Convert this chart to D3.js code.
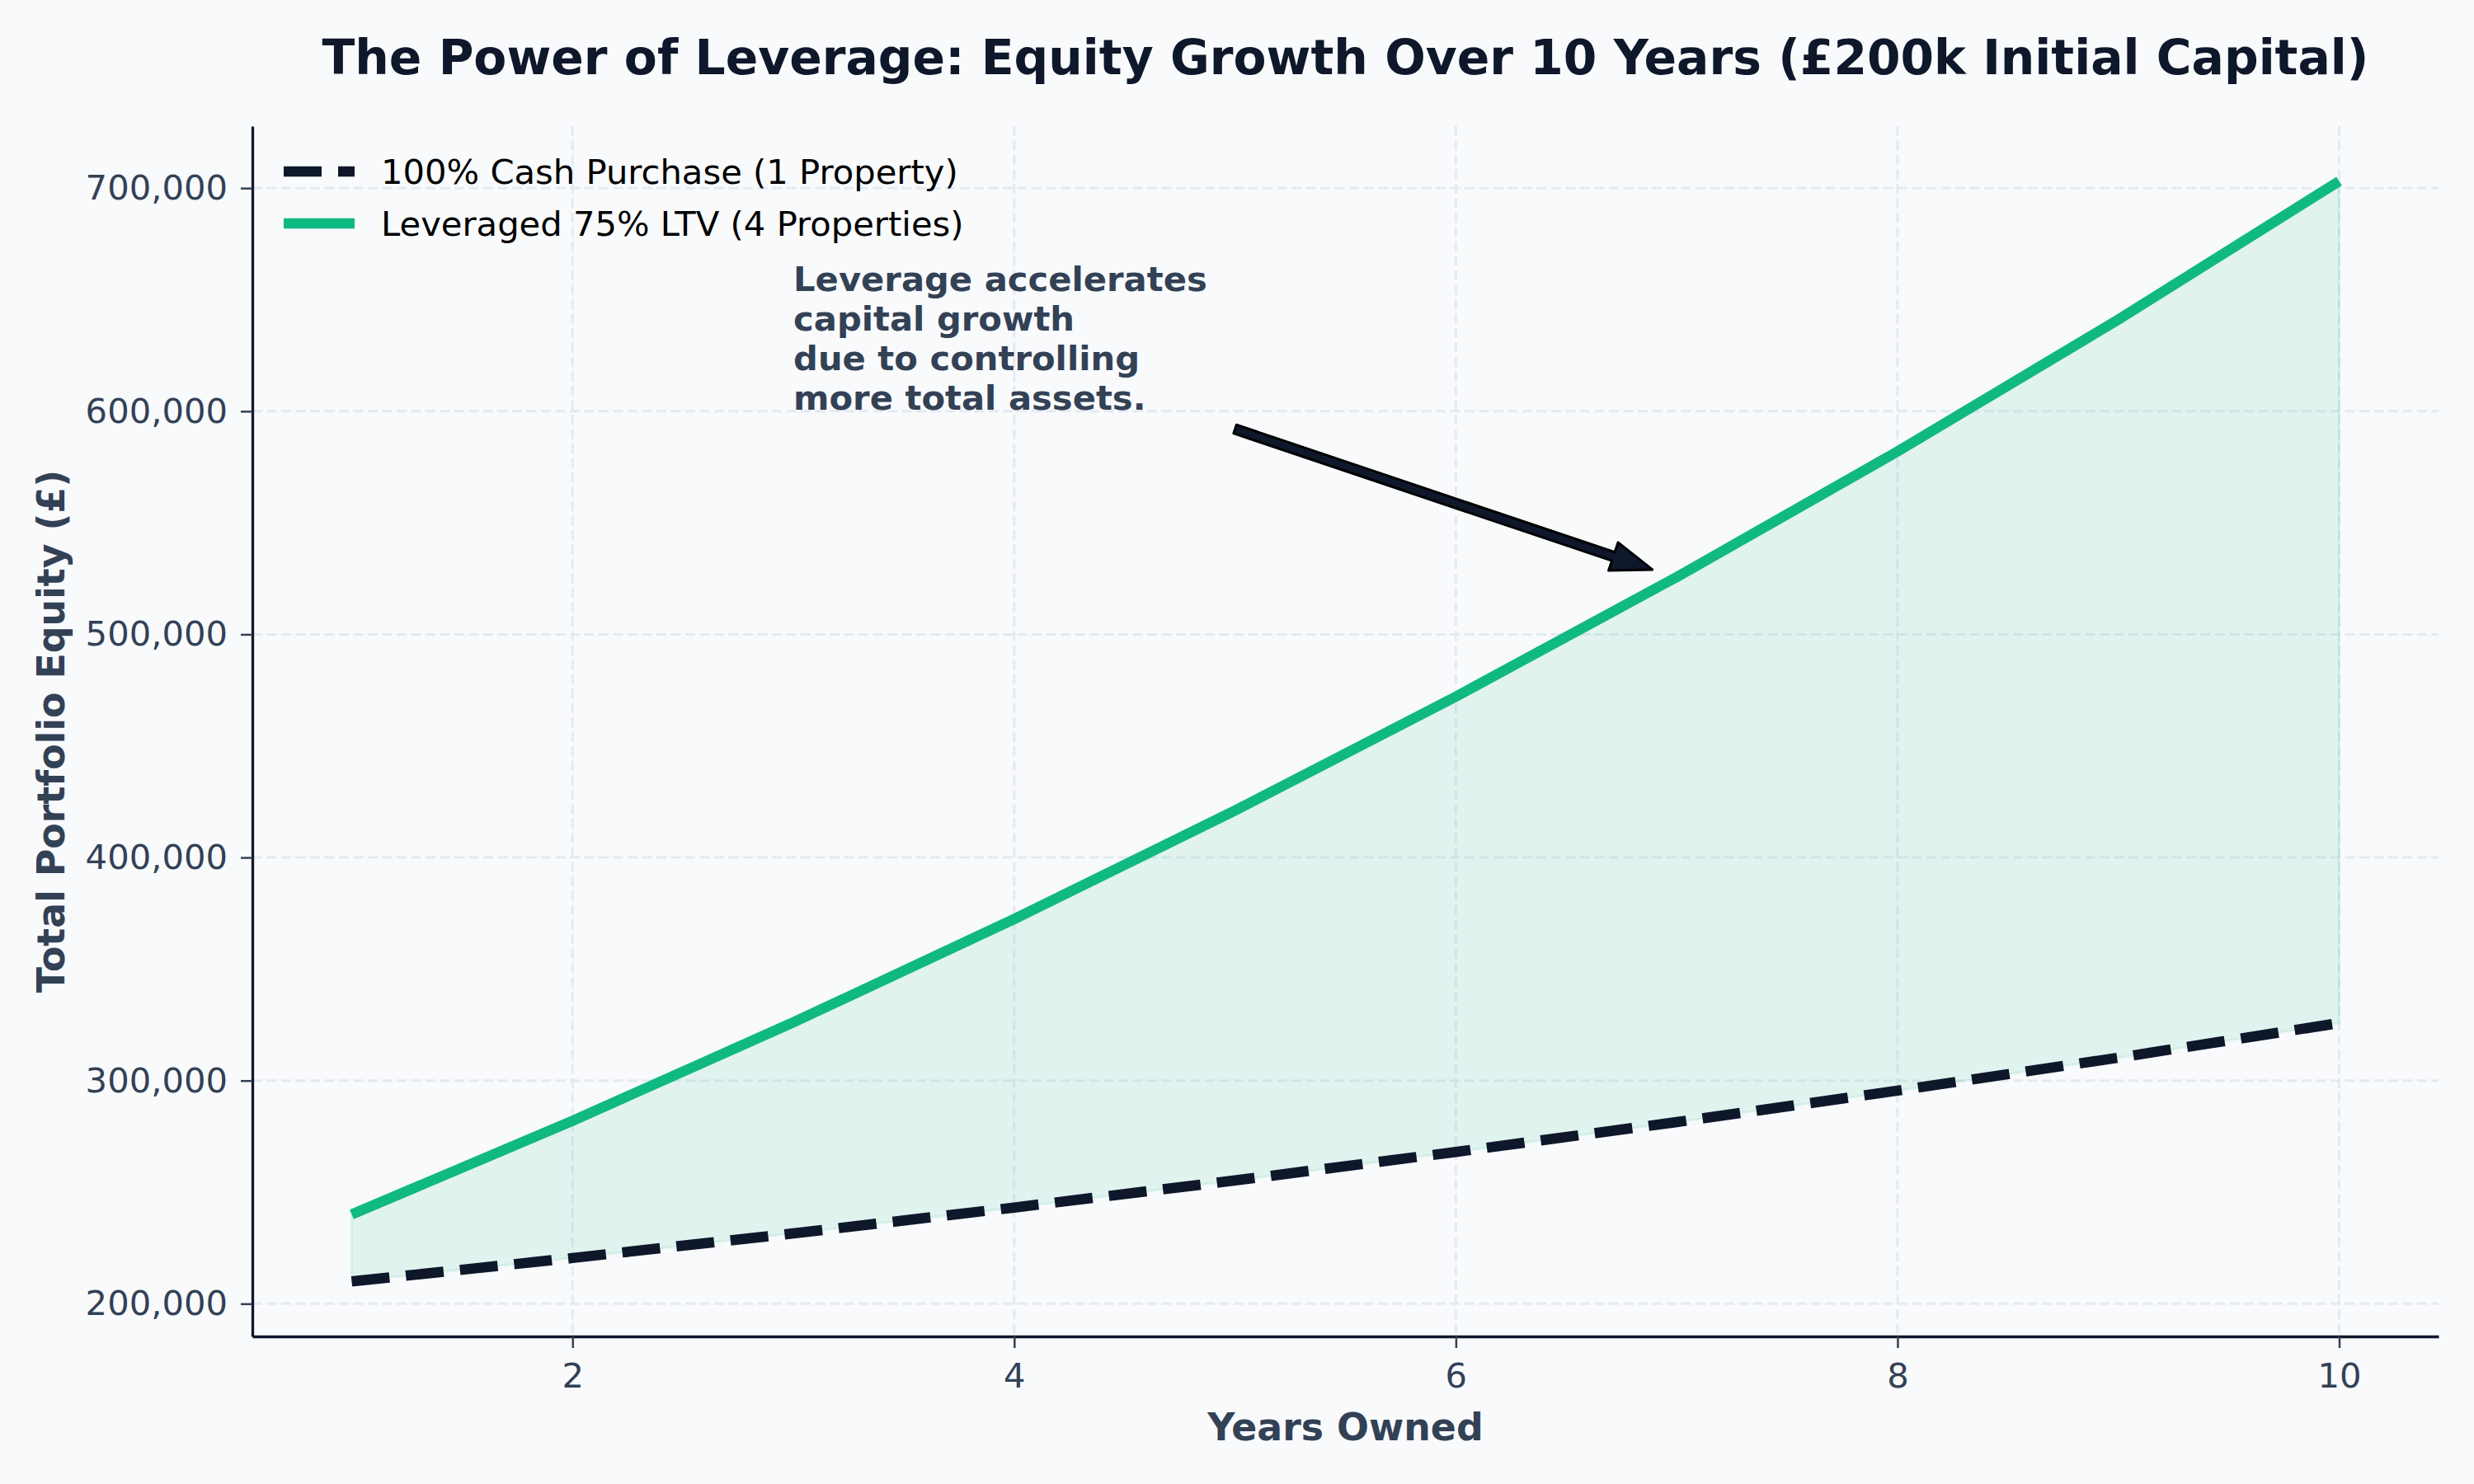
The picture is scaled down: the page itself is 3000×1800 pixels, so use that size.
<!DOCTYPE html>
<html>
<head>
<meta charset="utf-8">
<script src="https://cdn.jsdelivr.net/npm/d3@7"></script>
<style>
  html, body { margin: 0; padding: 0; background: #f8fafc; }
  svg { display: block; }
  text { font-family: "DejaVu Sans", sans-serif; }
</style>
</head>
<body>
<script>
// ---- Data ----
const years = [1, 2, 3, 4, 5, 6, 7, 8, 9, 10];
const cashEquity = [210000, 220500, 231525, 243101, 255256, 268019, 281420, 295491, 310266, 325779];
const leveragedEquity = [240000, 282000, 326100, 372405, 421025, 472076, 525680, 581964, 641062, 703115];
const seriesNames = ["100% Cash Purchase (1 Property)", "Leveraged 75% LTV (4 Properties)"];
const xTicks = [2, 4, 6, 8, 10];
const yTicks = [200000, 300000, 400000, 500000, 600000, 700000];
const titleText = "The Power of Leverage: Equity Growth Over 10 Years (£200k Initial Capital)";
const xLabel = "Years Owned";
const yLabel = "Total Portfolio Equity (£)";
const noteLines = ["Leverage accelerates", "capital growth", "due to controlling", "more total assets."];
const notePos = [3, 600000];
const arrowFrom = [5, 592000];
const arrowTo = [6.89, 529000];

(function () {
// ---- Layout ----
const W = 3000, H = 1800;
const pL = 306, pR = 2957, pT = 153, pB = 1621;
const C = { bg: "#f8fafc", dark: "#0f172a", slate: "#334155", green: "#10b981", grid: "#e2e8f0" };

const svg = d3.select("body").append("svg").attr("width", W).attr("height", H)
  .style("background", C.bg);

// domains with 5% margin (like matplotlib autoscale)
const xMin = d3.min(years), xMax = d3.max(years);
const xPad = (xMax - xMin) * 0.05;
const allY = cashEquity.concat(leveragedEquity);
const yMin = d3.min(allY), yMax = d3.max(allY);
const yPad = (yMax - yMin) * 0.05;

const x = d3.scaleLinear().domain([xMin - xPad, xMax + xPad]).range([pL, pR]);
const y = d3.scaleLinear().domain([yMin - yPad, yMax + yPad]).range([pB, pT]);

// ---- Grid ----
const grid = svg.append("g");
grid.selectAll("line.gx").data(xTicks).join("line")
  .attr("x1", d => x(d)).attr("x2", d => x(d)).attr("y1", pT).attr("y2", pB)
  .attr("stroke", C.grid).attr("stroke-width", 3).attr("stroke-dasharray", "12 5.5").attr("opacity", 0.85);
grid.selectAll("line.gy").data(yTicks).join("line")
  .attr("x1", pL).attr("x2", pR).attr("y1", d => y(d)).attr("y2", d => y(d))
  .attr("stroke", C.grid).attr("stroke-width", 3).attr("stroke-dasharray", "12 5.5").attr("opacity", 0.85);

// ---- Fill between ----
const pts = years.map((yr, i) => ({ yr, cash: cashEquity[i], lev: leveragedEquity[i] }));
svg.append("path").datum(pts)
  .attr("d", d3.area().x(d => x(d.yr)).y0(d => y(d.cash)).y1(d => y(d.lev)))
  .attr("fill", C.green).attr("fill-opacity", 0.1)
  .attr("stroke", C.green).attr("stroke-opacity", 0.1).attr("stroke-width", 3);

// ---- Lines ----
const line = d3.line().x(d => x(d[0])).y(d => y(d[1]));
svg.append("path").datum(years.map((yr, i) => [yr, cashEquity[i]]))
  .attr("d", line).attr("fill", "none").attr("stroke", C.dark)
  .attr("stroke-width", 12.5).attr("stroke-dasharray", "46 20");
svg.append("path").datum(years.map((yr, i) => [yr, leveragedEquity[i]]))
  .attr("d", line).attr("fill", "none").attr("stroke", C.green)
  .attr("stroke-width", 12.5).attr("stroke-linejoin", "round");

// ---- Axes ----
const xAxis = svg.append("g").attr("transform", `translate(0,${pB})`)
  .call(d3.axisBottom(x).tickValues(xTicks).tickFormat(d3.format("d")).tickSize(14).tickPadding(18).tickSizeOuter(0));
const yAxis = svg.append("g").attr("transform", `translate(${pL},0)`)
  .call(d3.axisLeft(y).tickValues(yTicks).tickFormat(d3.format(",")).tickSize(14).tickPadding(16).tickSizeOuter(0));
[xAxis, yAxis].forEach(g => {
  g.select(".domain").attr("stroke", C.dark).attr("stroke-width", 3.3);
  g.selectAll(".tick line").attr("stroke", C.slate).attr("stroke-width", 2.5);
  g.selectAll(".tick text").attr("fill", C.slate).style("font-size", "41.7px")
    .style("font-family", "'DejaVu Sans', sans-serif");
});

// ---- Labels ----
svg.append("text").attr("x", (pL + pR) / 2).attr("y", 90)
  .attr("text-anchor", "middle").attr("fill", C.dark)
  .style("font-size", "58.3px").style("font-weight", "bold").text(titleText);
svg.append("text").attr("x", (pL + pR) / 2).attr("y", 1747)
  .attr("text-anchor", "middle").attr("fill", C.slate)
  .style("font-size", "45.8px").style("font-weight", "bold").text(xLabel);
svg.append("text").attr("transform", `translate(78,${(pT + pB) / 2}) rotate(-90)`)
  .attr("text-anchor", "middle").attr("fill", C.slate)
  .style("font-size", "45.8px").style("font-weight", "bold").text(yLabel);

// ---- Legend ----
const legend = svg.append("g");
const legRows = [
  { name: seriesNames[0], color: C.dark, dash: "46 20", y: 208 },
  { name: seriesNames[1], color: C.green, dash: null, y: 271 }
];
legRows.forEach(r => {
  legend.append("line").attr("x1", 344).attr("x2", 430).attr("y1", r.y).attr("y2", r.y)
    .attr("stroke", r.color).attr("stroke-width", 12.5)
    .attr("stroke-dasharray", r.dash);
  legend.append("text").attr("x", 462).attr("y", r.y + 15)
    .attr("fill", "#000").style("font-size", "41.7px").text(r.name);
});

// ---- Annotation ----
const note = svg.append("text").attr("fill", C.slate)
  .style("font-size", "41.7px").style("font-weight", "bold");
const lineGap = 48;
noteLines.forEach((t, i) => {
  note.append("tspan").attr("x", x(notePos[0]))
    .attr("y", y(notePos[1]) - 2 - (noteLines.length - 1 - i) * lineGap).text(t);
});

// arrow (fancy filled arrow)
const x0 = x(arrowFrom[0]), y0 = y(arrowFrom[1]);
const x1 = x(arrowTo[0]), y1 = y(arrowTo[1]);
const dx = x1 - x0, dy = y1 - y0, L = Math.hypot(dx, dy);
const ux = dx / L, uy = dy / L, nx = -uy, ny = ux;
const sw = 5.5, hw = 18, hl = 50;
const bx = x1 - ux * hl, by = y1 - uy * hl;
const poly = [
  [x0 + nx * sw, y0 + ny * sw],
  [bx + nx * sw, by + ny * sw],
  [bx + nx * hw, by + ny * hw],
  [x1, y1],
  [bx - nx * hw, by - ny * hw],
  [bx - nx * sw, by - ny * sw],
  [x0 - nx * sw, y0 - ny * sw]
];
svg.append("path").attr("d", "M" + poly.map(p => p.join(",")).join("L") + "Z")
  .attr("fill", C.dark).attr("stroke", "#000").attr("stroke-width", 3)
  .attr("stroke-linejoin", "round");
})();
</script>
</body>
</html>
